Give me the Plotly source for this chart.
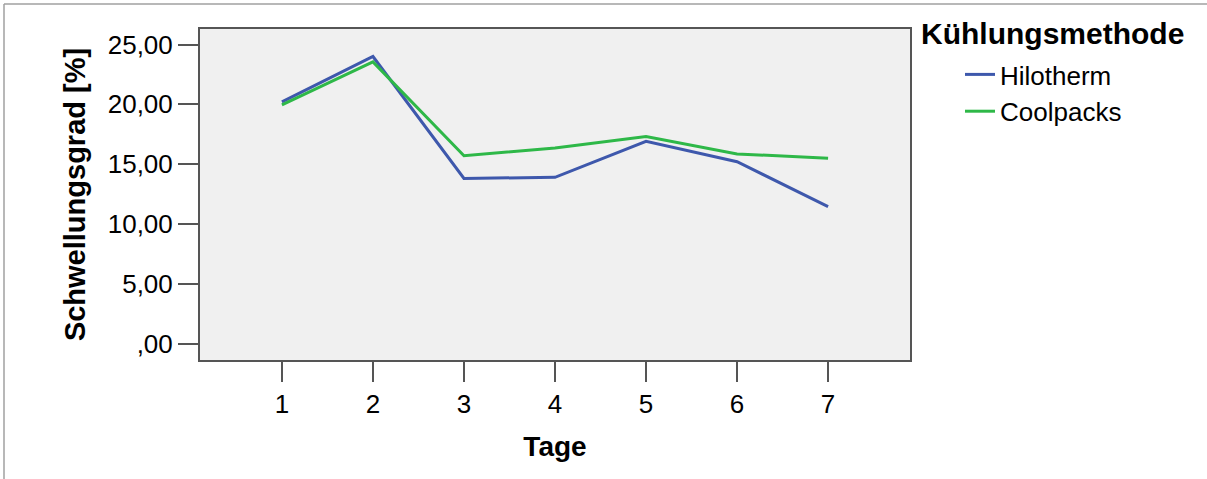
import plotly.graph_objects as go

tage = [1, 2, 3, 4, 5, 6, 7]
hilotherm = [20.2, 24.0, 13.8, 13.9, 16.9, 15.2, 11.45]
coolpacks = [19.95, 23.55, 15.7, 16.35, 17.3, 15.85, 15.5]
y_tickvals = [0, 5, 10, 15, 20, 25]
y_ticktext = [",00", "5,00", "10,00", "15,00", "20,00", "25,00"]
series_names = ["Hilotherm", "Coolpacks"]
legend_title = "Kühlungsmethode"
x_title = "Tage"
y_title = "Schwellungsgrad [%]"

FONT = "Liberation Sans, Arial, sans-serif"

fig = go.Figure()
fig.add_trace(go.Scatter(x=tage, y=hilotherm, mode="lines", name=series_names[0],
                         line=dict(color="#3E58AC", width=3)))
fig.add_trace(go.Scatter(x=tage, y=coolpacks, mode="lines", name=series_names[1],
                         line=dict(color="#2EB848", width=3)))

W, H = 1207, 479
L, R, T, B = 200, 297, 29, 119
pw, ph = W - L - R, H - T - B

def px(x):
    return (x - L) / pw

def py(y):
    return (H - B - y) / ph

fig.update_layout(
    width=W, height=H,
    margin=dict(l=L, r=R, t=T, b=B, pad=0),
    paper_bgcolor="white",
    plot_bgcolor="#F0F0F0",
    font=dict(family=FONT, size=26, color="#000000"),
    showlegend=True,
    legend=dict(
        x=px(920), y=py(51), xanchor="left", yanchor="top",
        font=dict(size=26),
        indentation=40,
        bgcolor="rgba(0,0,0,0)",
        tracegroupgap=0,
        itemwidth=30,
    ),
    annotations=[
        dict(text="<b>" + legend_title + "</b>", xref="paper", yref="paper",
             x=px(919), y=py(33), xanchor="left", yanchor="middle",
             showarrow=False, font=dict(size=30)),
    ],
    xaxis=dict(
        range=[0.1, 7.9], tickvals=tage, ticktext=[str(t) for t in tage],
        showgrid=False, zeroline=False,
        showline=True, mirror=True, linecolor="#555555", linewidth=2,
        ticks="outside", ticklen=20, tickwidth=2, tickcolor="#555555",
        tickfont=dict(size=26),
        title=dict(text="<b>" + x_title + "</b>", font=dict(size=28), standoff=18),
    ),
    yaxis=dict(
        range=[-1.38, 26.3], tickvals=y_tickvals, ticktext=y_ticktext,
        showgrid=False, zeroline=False,
        showline=True, mirror=True, linecolor="#555555", linewidth=2,
        ticks="outside", ticklen=20, tickwidth=2, tickcolor="#555555",
        tickfont=dict(size=26),
        title=dict(text="<b>" + y_title + "</b>", font=dict(size=29), standoff=14),
    ),
    shapes=[
        dict(type="line", xref="paper", yref="paper",
             x0=px(4), x1=px(W + 5), y0=py(4), y1=py(4),
             line=dict(color="#A0A0A0", width=1.5)),
        dict(type="line", xref="paper", yref="paper",
             x0=px(4), x1=px(4), y0=py(4), y1=py(H + 5),
             line=dict(color="#A0A0A0", width=1.5)),
    ],
)

fig.write_html("out.html", config={"displayModeBar": False},
               post_script="document.body.style.margin='0';")
